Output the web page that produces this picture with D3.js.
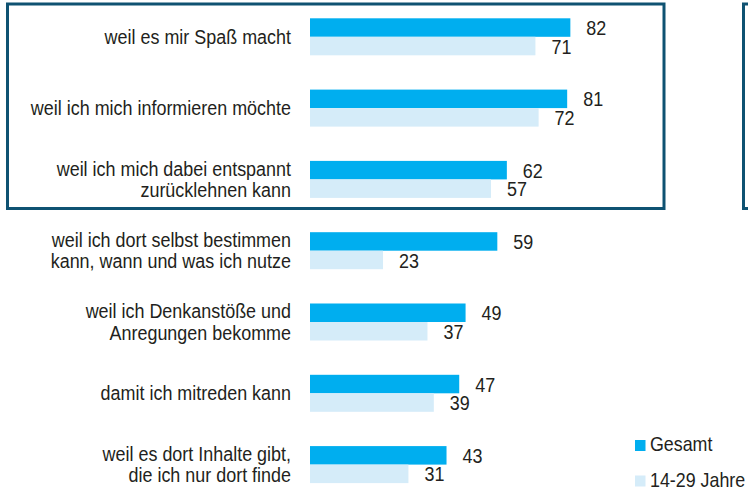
<!DOCTYPE html>
<html><head><meta charset="utf-8">
<script src="https://cdn.jsdelivr.net/npm/d3@7"></script>
<style>
html,body{margin:0;padding:0;background:#fff;}
svg{display:block;}
text{font-family:"Liberation Sans",Arial,sans-serif;fill:#231f20;}
</style></head>
<body>
<svg id="chart" width="748" height="492"></svg>
<script>
const categories = [
  ["weil es mir Spaß macht"],
  ["weil ich mich informieren möchte"],
  ["weil ich mich dabei entspannt", "zurücklehnen kann"],
  ["weil ich dort selbst bestimmen", "kann, wann und was ich nutze"],
  ["weil ich Denkanstöße und", "Anregungen bekomme"],
  ["damit ich mitreden kann"],
  ["weil es dort Inhalte gibt,", "die ich nur dort finde"]
];
const seriesNames = ["Gesamt", "14-29 Jahre"];
const gesamt = [82, 81, 62, 59, 49, 47, 43];
const jung = [71, 72, 57, 23, 37, 39, 31];
const colors = ["#00aeef", "#d5ecf9"];

const svg = d3.select("#chart");
const keys = categories.map((c, i) => i);
const y = d3.scaleBand().domain(keys).range([18.3, 483.1]).paddingInner(0.481).paddingOuter(0);
const ySub = d3.scaleBand().domain([0, 1]).range([0, y.bandwidth()]).padding(0);
const x = d3.scaleLinear().domain([0, 100]).range([310, 627.5]);
const fs = 21;
const sx = 0.855; // condensed look

function label(sel, tx, ty, str, anchor, scale) {
  return sel.append("text")
    .attr("transform", `translate(${tx},${ty}) scale(${scale || sx},1)`)
    .attr("text-anchor", anchor || "start")
    .attr("font-size", fs)
    .text(str);
}

// highlight frames
svg.append("rect").attr("x", 7.5).attr("y", 4).attr("width", 656.5).attr("height", 204.5)
  .attr("fill", "none").attr("stroke", "#0f5272").attr("stroke-width", 3);
svg.append("rect").attr("x", 743.5).attr("y", 4).attr("width", 60).attr("height", 204.5)
  .attr("fill", "none").attr("stroke", "#0f5272").attr("stroke-width", 3);

const series = [gesamt, jung];
const groups = svg.selectAll("g.grp").data(keys).join("g").attr("class", "grp")
  .attr("transform", d => `translate(0,${y(d)})`);

series.forEach((vals, s) => {
  groups.append("rect")
    .attr("x", x(0))
    .attr("y", ySub(s))
    .attr("width", d => x(vals[d]) - x(0))
    .attr("height", ySub.bandwidth())
    .attr("fill", colors[s]);
  groups.each(function(d) {
    label(d3.select(this), x(vals[d]) + 16, ySub(s) + ySub.bandwidth() / 2 + 7.6, vals[d]);
  });
});

// category labels
groups.each(function(d) {
  const lines = categories[d];
  const c = y.bandwidth() / 2 + 7;
  lines.forEach((ln, j) => {
    label(d3.select(this), 291, c + (j - (lines.length - 1) / 2) * 21.5, ln, "end");
  });
});

// legend
const leg = svg.append("g");
const legY = [451, 486.5];
seriesNames.forEach((n, i) => {
  const ly = legY[i];
  leg.append("rect").attr("x", 635).attr("y", ly - 11).attr("width", 10.5).attr("height", 11)
    .attr("fill", colors[i]);
  label(leg, 650, ly, n, "start", 0.85);
});
</script>
</body></html>
